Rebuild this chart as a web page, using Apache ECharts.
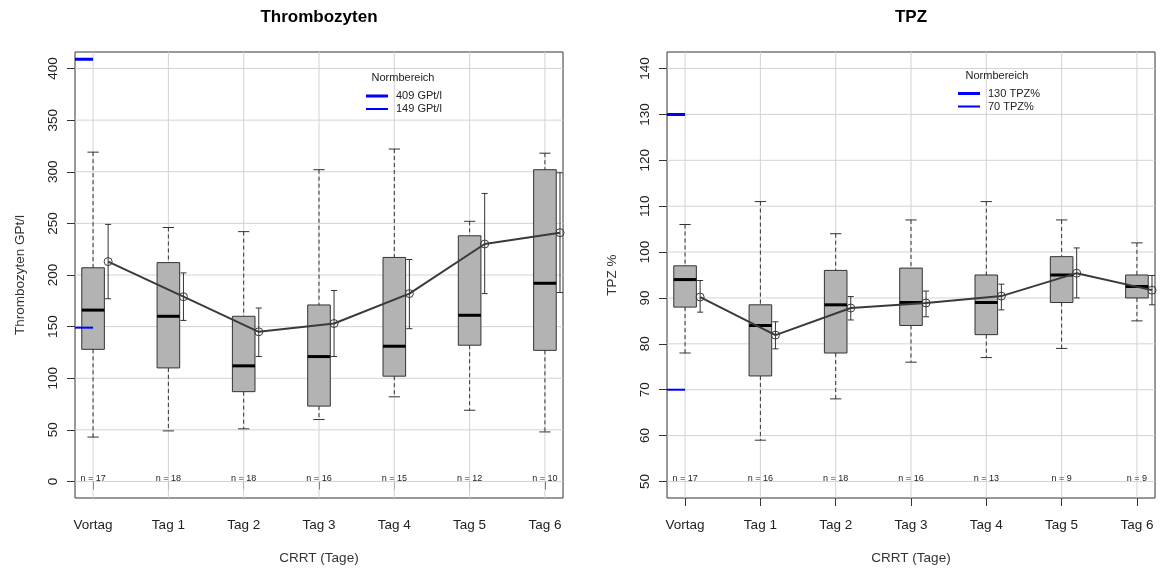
<!DOCTYPE html>
<html><head><meta charset="utf-8">
<script src="https://cdn.jsdelivr.net/npm/echarts@6/dist/echarts.min.js"></script>
<style>html,body{margin:0;padding:0;background:#fff}#c{width:1160px;height:572px}</style>
</head><body><div id="c"></div>
<script>
const categories = ['Vortag', 'Tag 1', 'Tag 2', 'Tag 3', 'Tag 4', 'Tag 5', 'Tag 6'];

// Thrombozyten (GPt/l)
const thrWhiskerLow  = [43, 49, 51, 60, 82, 69, 48];
const thrQ1          = [128, 110, 87, 73, 102, 132, 127];
const thrMedian      = [166, 160, 112, 121, 131, 161, 192];
const thrQ3          = [207, 212, 160, 171, 217, 238, 302];
const thrWhiskerHigh = [319, 246, 242, 302, 322, 252, 318];
const thrMean        = [213, 179, 145, 153, 182, 230, 241];
const thrErrLow      = [177, 156, 121, 121, 148, 182, 183];
const thrErrHigh     = [249, 202, 168, 185, 215, 279, 299];
const thrN           = [17, 18, 18, 16, 15, 12, 10];
const thrTicks       = [0, 50, 100, 150, 200, 250, 300, 350, 400];
const thrNorm        = [409, 149];
const thrNormLabels  = ['409 GPt/l', '149 GPt/l'];

// TPZ (%)
const tpzWhiskerLow  = [78, 59, 68, 76, 77, 79, 85];
const tpzQ1          = [88, 73, 78, 84, 82, 89, 90];
const tpzMedian      = [94, 84, 88.5, 89, 89, 95, 92.5];
const tpzQ3          = [97, 88.5, 96, 96.5, 95, 99, 95];
const tpzWhiskerHigh = [106, 111, 104, 107, 111, 107, 102];
const tpzMean        = [90.2, 81.9, 87.8, 88.9, 90.4, 95.4, 91.7];
const tpzErrLow      = [86.9, 78.9, 85.2, 85.9, 87.4, 90.0, 88.5];
const tpzErrHigh     = [93.8, 84.8, 90.3, 91.5, 93.0, 100.9, 94.9];
const tpzN           = [17, 16, 18, 16, 13, 9, 9];
const tpzTicks       = [50, 60, 70, 80, 90, 100, 110, 120, 130, 140];
const tpzNorm        = [130, 70];
const tpzNormLabels  = ['130 TPZ%', '70 TPZ%'];

// ---- layout / style constants ----
const FONT = 'Liberation Sans, Arial, Helvetica, sans-serif';
const X_MIN = 0.76, X_MAX = 7.24;
const BOX_W = 0.3, CAP_W = 0.15, ERR_CAP_W = 0.08, MEAN_OFFSET = 0.2;
const positions = categories.map((c, i) => i + 1);

const panels = [
  {
    title: 'Thrombozyten', yName: 'Thrombozyten GPt/l', yMin: -16, yMax: 416,
    lo: thrWhiskerLow, q1: thrQ1, med: thrMedian, q3: thrQ3, hi: thrWhiskerHigh,
    mean: thrMean, eLo: thrErrLow, eHi: thrErrHigh, n: thrN, ticks: thrTicks,
    norm: thrNorm, normLabels: thrNormLabels,
    gridLeft: 75, legendLeft: 366, legendCenters: [96, 109], normTitleX: 403, normTitleY: 77.5
  },
  {
    title: 'TPZ', yName: 'TPZ %', yMin: 46.4, yMax: 143.6,
    lo: tpzWhiskerLow, q1: tpzQ1, med: tpzMedian, q3: tpzQ3, hi: tpzWhiskerHigh,
    mean: tpzMean, eLo: tpzErrLow, eHi: tpzErrHigh, n: tpzN, ticks: tpzTicks,
    norm: tpzNorm, normLabels: tpzNormLabels,
    gridLeft: 667, legendLeft: 958, legendCenters: [93.5, 106.5], normTitleX: 997, normTitleY: 76
  }
];
const GRID_W = 488, GRID_TOP = 52, GRID_H = 446;

const grids = [], xAxes = [], yAxes = [], series = [], titles = [], legends = [];

panels.forEach((p, k) => {
  grids.push({ left: p.gridLeft, top: GRID_TOP, width: GRID_W, height: GRID_H,
    show: true, borderColor: '#333', borderWidth: 1, backgroundColor: 'transparent' });

  xAxes.push({
    type: 'value', gridIndex: k, min: X_MIN, max: X_MAX,
    axisLine: { show: false }, splitLine: { show: false },
    axisTick: { show: true, inside: false, length: 8, customValues: positions, lineStyle: { color: '#333' } },
    axisLabel: { customValues: positions, margin: 20, fontSize: 13.5, color: '#222', fontFamily: FONT,
      formatter: v => categories[Math.round(v) - 1] },
    name: 'CRRT (Tage)', nameLocation: 'middle', nameGap: 53,
    nameTextStyle: { fontSize: 13.5, color: '#333', fontFamily: FONT }
  });

  yAxes.push({
    type: 'value', gridIndex: k, min: p.yMin, max: p.yMax,
    axisLine: { show: false }, splitLine: { show: false },
    axisTick: { show: true, inside: false, length: 8, customValues: p.ticks, lineStyle: { color: '#333' } },
    axisLabel: { customValues: p.ticks, rotate: 90, margin: 15, fontSize: 13.5, color: '#222', fontFamily: FONT },
    name: p.yName, nameLocation: 'middle', nameGap: 48, nameRotate: 90,
    nameTextStyle: { fontSize: 13.5, color: '#333', fontFamily: FONT }
  });

  const cx = (p.gridLeft + GRID_W / 2);
  titles.push({ text: p.title, left: cx, top: 7, textAlign: 'center', padding: 0,
    textStyle: { fontSize: 17, fontWeight: 'bold', color: '#000', lineHeight: 20, fontFamily: FONT } });
  titles.push({ text: 'Normbereich', left: p.normTitleX, top: p.normTitleY - 7, textAlign: 'center', padding: 0,
    textStyle: { fontSize: 11, fontWeight: 'normal', color: '#222', lineHeight: 14, fontFamily: FONT } });

  // horizontal grid lines
  series.push({
    type: 'custom', xAxisIndex: k, yAxisIndex: k, z: 1, silent: true,
    data: p.ticks.map(t => [X_MIN, t]),
    renderItem: (params, api) => {
      const a = api.coord([X_MIN, api.value(1)]);
      const b = api.coord([X_MAX, api.value(1)]);
      return { type: 'line', shape: { x1: a[0], y1: a[1], x2: b[0], y2: b[1] },
        style: { stroke: '#d3d3d3', lineWidth: 1 } };
    }
  });
  // vertical grid lines
  series.push({
    type: 'custom', xAxisIndex: k, yAxisIndex: k, z: 1, silent: true,
    data: positions.map(x => [x, p.yMin]),
    renderItem: (params, api) => {
      const a = api.coord([api.value(0), p.yMin]);
      const b = api.coord([api.value(0), p.yMax]);
      return { type: 'line', shape: { x1: a[0], y1: a[1], x2: b[0], y2: b[1] },
        style: { stroke: '#d3d3d3', lineWidth: 1 } };
    }
  });

  // norm lines
  p.norm.forEach((v, j) => {
    series.push({
      type: 'line', name: p.normLabels[j], xAxisIndex: k, yAxisIndex: k, z: 3,
      data: [[X_MIN, v], [positions[0], v]], symbol: 'none', silent: true,
      color: '#0000ff', lineStyle: { color: '#0000ff', width: j === 0 ? 3 : 2 }
    });
    const ih = j === 0 ? 3 : 2;
    legends.push({
      data: [p.normLabels[j]], left: p.legendLeft, top: p.legendCenters[j] - 6, padding: 0,
      icon: 'rect', itemWidth: 22, itemHeight: ih, selectedMode: false,
      itemStyle: { color: '#0000ff' },
      textStyle: { fontSize: 11, lineHeight: 12, color: '#222', fontFamily: FONT, padding: [0, 0, 0, 3] }
    });
  });

  // boxplots
  series.push({
    type: 'custom', xAxisIndex: k, yAxisIndex: k, z: 2, silent: true,
    encode: { x: 0, y: [1, 2, 3, 4, 5] },
    data: positions.map((x, i) => [x, p.lo[i], p.q1[i], p.med[i], p.q3[i], p.hi[i]]),
    renderItem: (params, api) => {
      const x = api.value(0);
      const lo = api.coord([x, api.value(1)]);
      const q1 = api.coord([x, api.value(2)]);
      const md = api.coord([x, api.value(3)]);
      const q3 = api.coord([x, api.value(4)]);
      const hi = api.coord([x, api.value(5)]);
      const hw = api.size([BOX_W, 0])[0] / 2;
      const cw = api.size([CAP_W, 0])[0] / 2;
      const c = lo[0];
      const dash = { stroke: '#333', lineWidth: 1, lineDash: [4, 3] };
      const solid = { stroke: '#333', lineWidth: 1 };
      return { type: 'group', children: [
        { type: 'line', shape: { x1: c, y1: hi[1], x2: c, y2: q3[1] }, style: dash },
        { type: 'line', shape: { x1: c, y1: q1[1], x2: c, y2: lo[1] }, style: dash },
        { type: 'line', shape: { x1: c - cw, y1: hi[1], x2: c + cw, y2: hi[1] }, style: solid },
        { type: 'line', shape: { x1: c - cw, y1: lo[1], x2: c + cw, y2: lo[1] }, style: solid },
        { type: 'rect', shape: { x: c - hw, y: q3[1], width: 2 * hw, height: q1[1] - q3[1] },
          style: { fill: '#b3b3b3', stroke: '#333', lineWidth: 1 } },
        { type: 'line', shape: { x1: c - hw, y1: md[1], x2: c + hw, y2: md[1] },
          style: { stroke: '#000', lineWidth: 3 } }
      ] };
    }
  });

  // error bars around mean
  series.push({
    type: 'custom', xAxisIndex: k, yAxisIndex: k, z: 3, silent: true,
    encode: { x: 0, y: [1, 2, 3] },
    data: positions.map((x, i) => [x + MEAN_OFFSET, p.mean[i], p.eLo[i], p.eHi[i]]),
    renderItem: (params, api) => {
      const x = api.value(0);
      const a = api.coord([x, api.value(2)]);
      const b = api.coord([x, api.value(3)]);
      const cw = api.size([ERR_CAP_W, 0])[0] / 2;
      const st = { stroke: '#333', lineWidth: 1 };
      return { type: 'group', children: [
        { type: 'line', shape: { x1: a[0], y1: a[1], x2: b[0], y2: b[1] }, style: st },
        { type: 'line', shape: { x1: a[0] - cw, y1: a[1], x2: a[0] + cw, y2: a[1] }, style: st },
        { type: 'line', shape: { x1: b[0] - cw, y1: b[1], x2: b[0] + cw, y2: b[1] }, style: st }
      ] };
    }
  });

  // mean line
  series.push({
    type: 'line', xAxisIndex: k, yAxisIndex: k, z: 4, silent: true,
    data: positions.map((x, i) => [x + MEAN_OFFSET, p.mean[i]]),
    symbol: 'circle', symbolSize: 8,
    lineStyle: { color: '#3a3a3a', width: 2 },
    itemStyle: { color: 'rgba(255,255,255,0)', borderColor: '#3a3a3a', borderWidth: 1 }
  });

  // n labels
  series.push({
    type: 'custom', xAxisIndex: k, yAxisIndex: k, z: 5, silent: true,
    encode: { x: 0, y: 1 },
    data: positions.map((x, i) => [x, p.ticks[0], p.n[i]]),
    renderItem: (params, api) => {
      const pt = api.coord([api.value(0), api.value(1)]);
      return { type: 'text', x: pt[0], y: pt[1] + 2,
        style: { text: 'n = ' + api.value(2), align: 'center', verticalAlign: 'bottom',
          fontSize: 9, fill: '#222', fontFamily: FONT } };
    }
  });
});

const chart = echarts.init(document.getElementById('c'), null, { renderer: 'canvas' });
chart.setOption({
  animation: false,
  backgroundColor: '#fff',
  title: titles,
  legend: legends,
  grid: grids,
  xAxis: xAxes,
  yAxis: yAxes,
  series: series
});
</script>
</body></html>
